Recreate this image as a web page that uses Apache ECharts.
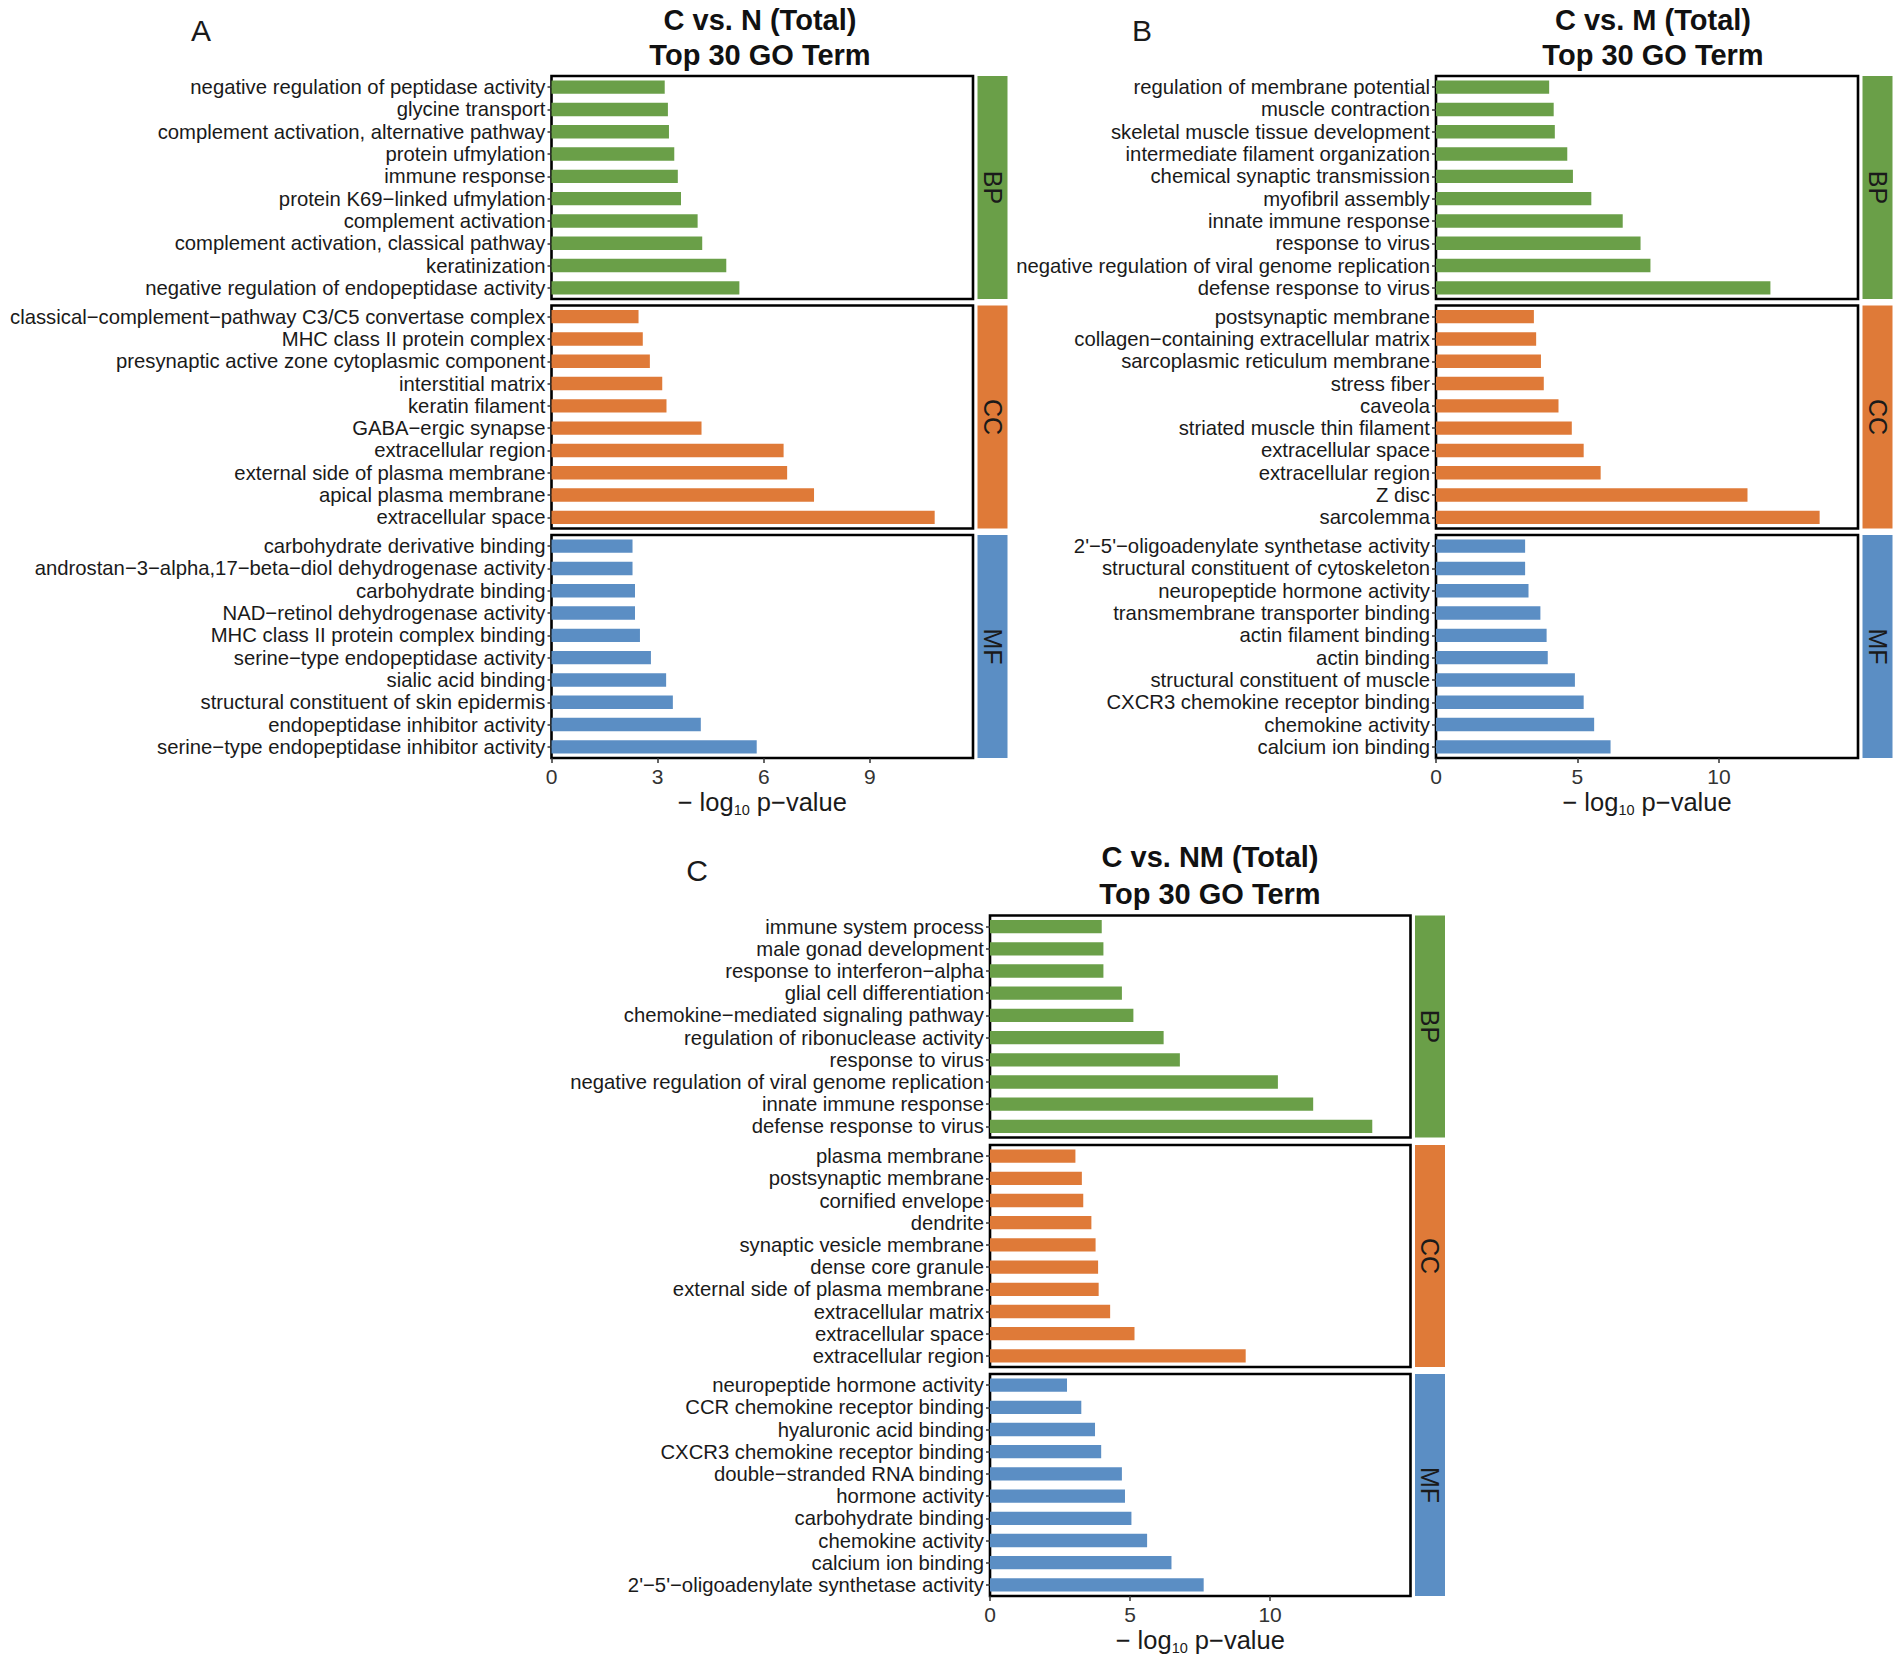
<!DOCTYPE html>
<html>
<head>
<meta charset="utf-8">
<script src="https://cdn.jsdelivr.net/npm/echarts@6/dist/echarts.min.js"></script>
<style>
html,body{margin:0;padding:0;background:#fff;}
#chart{width:1901px;height:1667px;}
</style>
</head>
<body>
<div id="chart"></div>
<script>
// ---------- Panel A: C vs. N ----------
const A_BP_terms = ["negative regulation of peptidase activity","glycine transport","complement activation, alternative pathway","protein ufmylation","immune response","protein K69−linked ufmylation","complement activation","complement activation, classical pathway","keratinization","negative regulation of endopeptidase activity"];
const A_BP_values = [3.20,3.29,3.32,3.47,3.57,3.66,4.13,4.26,4.94,5.31];
const A_CC_terms = ["classical−complement−pathway C3/C5 convertase complex","MHC class II protein complex","presynaptic active zone cytoplasmic component","interstitial matrix","keratin filament","GABA−ergic synapse","extracellular region","external side of plasma membrane","apical plasma membrane","extracellular space"];
const A_CC_values = [2.46,2.58,2.78,3.13,3.25,4.24,6.56,6.66,7.42,10.83];
const A_MF_terms = ["carbohydrate derivative binding","androstan−3−alpha,17−beta−diol dehydrogenase activity","carbohydrate binding","NAD−retinol dehydrogenase activity","MHC class II protein complex binding","serine−type endopeptidase activity","sialic acid binding","structural constituent of skin epidermis","endopeptidase inhibitor activity","serine−type endopeptidase inhibitor activity"];
const A_MF_values = [2.29,2.29,2.36,2.36,2.50,2.81,3.24,3.43,4.22,5.80];
const A_ticks = [0,3,6,9];

// ---------- Panel B: C vs. M ----------
const B_BP_terms = ["regulation of membrane potential","muscle contraction","skeletal muscle tissue development","intermediate filament organization","chemical synaptic transmission","myofibril assembly","innate immune response","response to virus","negative regulation of viral genome replication","defense response to virus"];
const B_BP_values = [4.00,4.16,4.20,4.64,4.84,5.49,6.60,7.23,7.58,11.82];
const B_CC_terms = ["postsynaptic membrane","collagen−containing extracellular matrix","sarcoplasmic reticulum membrane","stress fiber","caveola","striated muscle thin filament","extracellular space","extracellular region","Z disc","sarcolemma"];
const B_CC_values = [3.46,3.54,3.71,3.81,4.33,4.80,5.22,5.82,11.01,13.56];
const B_MF_terms = ["2'−5'−oligoadenylate synthetase activity","structural constituent of cytoskeleton","neuropeptide hormone activity","transmembrane transporter binding","actin filament binding","actin binding","structural constituent of muscle","CXCR3 chemokine receptor binding","chemokine activity","calcium ion binding"];
const B_MF_values = [3.15,3.15,3.27,3.69,3.91,3.95,4.91,5.22,5.59,6.17];
const B_ticks = [0,5,10];

// ---------- Panel C: C vs. NM ----------
const C_BP_terms = ["immune system process","male gonad development","response to interferon−alpha","glial cell differentiation","chemokine−mediated signaling pathway","regulation of ribonuclease activity","response to virus","negative regulation of viral genome replication","innate immune response","defense response to virus"];
const C_BP_values = [3.99,4.05,4.05,4.71,5.12,6.20,6.78,10.28,11.54,13.65];
const C_CC_terms = ["plasma membrane","postsynaptic membrane","cornified envelope","dendrite","synaptic vesicle membrane","dense core granule","external side of plasma membrane","extracellular matrix","extracellular space","extracellular region"];
const C_CC_values = [3.05,3.28,3.33,3.62,3.77,3.86,3.88,4.29,5.16,9.13];
const C_MF_terms = ["neuropeptide hormone activity","CCR chemokine receptor binding","hyaluronic acid binding","CXCR3 chemokine receptor binding","double−stranded RNA binding","hormone activity","carbohydrate binding","chemokine activity","calcium ion binding","2'−5'−oligoadenylate synthetase activity"];
const C_MF_values = [2.75,3.26,3.75,3.97,4.71,4.82,5.05,5.61,6.48,7.63];
const C_ticks = [0,5,10];

const ontologies = ["BP","CC","MF"];
const ontologyColors = ["#6a9f48","#df7a38","#5b8ec4"];
const FONT = "'Liberation Sans', Arial, Helvetica, sans-serif";

const panels = [
  {letter:"A", title1:"C vs. N (Total)", title2:"Top 30 GO Term",
   terms:[A_BP_terms,A_CC_terms,A_MF_terms], values:[A_BP_values,A_CC_values,A_MF_values], ticks:A_ticks,
   left:551.5, width:421.5, tops:[76,305.5,535], height:223, letterX:201, letterY:30, titleX:760, titleY:[20,55]},
  {letter:"B", title1:"C vs. M (Total)", title2:"Top 30 GO Term",
   terms:[B_BP_terms,B_CC_terms,B_MF_terms], values:[B_BP_values,B_CC_values,B_MF_values], ticks:B_ticks,
   left:1436, width:422, tops:[76,305.5,535], height:223, letterX:1142, letterY:30, titleX:1653, titleY:[20,55]},
  {letter:"C", title1:"C vs. NM (Total)", title2:"Top 30 GO Term",
   terms:[C_BP_terms,C_CC_terms,C_MF_terms], values:[C_BP_values,C_CC_values,C_MF_values], ticks:C_ticks,
   left:990, width:420.5, tops:[915.5,1145,1374], height:222, letterX:697, letterY:870, titleX:1210, titleY:[857,894]}
];

const grids = [], xAxes = [], yAxes = [], series = [], graphics = [];
let gi = 0;
panels.forEach(p => {
  const pmax = Math.max(...p.values.flat()) * 1.1;
  graphics.push({type:'text', x:p.letterX, y:p.letterY, style:{text:p.letter, font:"30px " + FONT, fill:'#1a1a1a', align:'center', verticalAlign:'middle'}});
  graphics.push({type:'text', x:p.titleX, y:p.titleY[0], style:{text:p.title1, font:"bold 29px " + FONT, fill:'#111', align:'center', verticalAlign:'middle'}});
  graphics.push({type:'text', x:p.titleX, y:p.titleY[1], style:{text:p.title2, font:"bold 29px " + FONT, fill:'#111', align:'center', verticalAlign:'middle'}});
  for (let k = 0; k < 3; k++) {
    const isBottom = k === 2;
    grids.push({left:p.left, top:p.tops[k], width:p.width, height:p.height, show:true,
      borderColor:'#000', borderWidth:2.6, backgroundColor:'#fff', containLabel:false, outerBoundsMode:'none'});
    xAxes.push({gridIndex:gi, type:'value', min:0, max:pmax,
      axisLine:{show:false}, splitLine:{show:false},
      axisTick:{show:isBottom, length:5, lineStyle:{color:'#333', width:1.5}, customValues:p.ticks},
      axisLabel:{show:isBottom, fontSize:21, color:'#333', fontFamily:FONT, margin:8, customValues:p.ticks},
      name: isBottom ? '{a|− log}{s|10}{a| p−value}' : '',
      nameLocation:'middle', nameGap:31, nameMoveOverlap:false,
      nameTextStyle:{rich:{
        a:{fontSize:25.5, fontFamily:FONT, color:'#1a1a1a', lineHeight:28, verticalAlign:'top'},
        s:{fontSize:14.5, fontFamily:FONT, color:'#1a1a1a', lineHeight:14, padding:[22,0,0,0], verticalAlign:'bottom'}
      }}
    });
    yAxes.push({gridIndex:gi, type:'category', data:p.terms[k], inverse:true,
      axisLine:{show:false}, splitLine:{show:false},
      axisTick:{show:true, alignWithLabel:true, length:4, lineStyle:{color:'#333', width:1.5}},
      axisLabel:{fontSize:20.3, color:'#1a1a1a', fontFamily:FONT, margin:6, interval:0}
    });
    series.push({type:'bar', xAxisIndex:gi, yAxisIndex:gi, data:p.values[k], barWidth:'60%',
      itemStyle:{color:ontologyColors[k]}, silent:true});
    // facet strip
    const sx = p.left + p.width + 4.5, sw = 30;
    graphics.push({type:'rect', shape:{x:sx, y:p.tops[k], width:sw, height:p.height}, style:{fill:ontologyColors[k]}});
    graphics.push({type:'text', x:sx + sw/2, y:p.tops[k] + p.height/2, rotation:-Math.PI/2,
      style:{text:ontologies[k], font:"25px " + FONT, fill:'#1a1a1a', align:'center', verticalAlign:'middle'}});
    gi++;
  }
});

const chart = echarts.init(document.getElementById('chart'), null, {renderer:'svg', width:1901, height:1667});
chart.setOption({
  animation:false,
  backgroundColor:'#fff',
  textStyle:{fontFamily:FONT},
  grid:grids, xAxis:xAxes, yAxis:yAxes, series:series,
  graphic:{elements:graphics}
});
</script>
</body>
</html>
